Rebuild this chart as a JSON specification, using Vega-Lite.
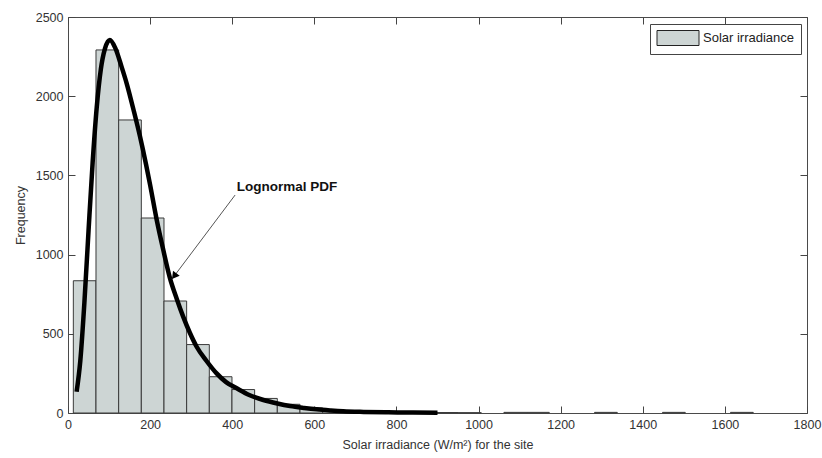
{
  "$schema": "https://vega.github.io/schema/vega-lite/v6.json",
  "autosize": {"type": "none"},
  "padding": {"left": 68, "top": 17, "right": 15, "bottom": 45},
  "width": 739,
  "height": 396,
  "background": "white",
  "datasets": {
    "bins": [
      {"start": 13, "end": 68.2, "count": 835},
      {"start": 68.2, "end": 123.4, "count": 2292},
      {"start": 123.4, "end": 178.6, "count": 1850},
      {"start": 178.6, "end": 233.8, "count": 1231},
      {"start": 233.8, "end": 289, "count": 707},
      {"start": 289, "end": 344.2, "count": 432},
      {"start": 344.2, "end": 399.4, "count": 229},
      {"start": 399.4, "end": 454.6, "count": 148},
      {"start": 454.6, "end": 509.8, "count": 92},
      {"start": 509.8, "end": 565, "count": 55},
      {"start": 565, "end": 620.2, "count": 32},
      {"start": 620.2, "end": 675.4, "count": 17},
      {"start": 675.4, "end": 730.6, "count": 10},
      {"start": 730.6, "end": 785.8, "count": 7},
      {"start": 785.8, "end": 841, "count": 5},
      {"start": 841, "end": 896.2, "count": 4},
      {"start": 896.2, "end": 951.4, "count": 3},
      {"start": 951.4, "end": 1006.6, "count": 2},
      {"start": 1061.8, "end": 1117, "count": 4},
      {"start": 1117, "end": 1172.2, "count": 4},
      {"start": 1282.6, "end": 1337.8, "count": 4},
      {"start": 1448.2, "end": 1503.4, "count": 4},
      {"start": 1613.8, "end": 1669, "count": 4}
    ],
    "pdf": [
      {"x": 21, "y": 134}, {"x": 30, "y": 330}, {"x": 40, "y": 700}, {"x": 50, "y": 1150},
      {"x": 60, "y": 1580}, {"x": 70, "y": 1930}, {"x": 80, "y": 2170}, {"x": 90, "y": 2300},
      {"x": 102, "y": 2355}, {"x": 115, "y": 2305}, {"x": 130, "y": 2190}, {"x": 143, "y": 2080},
      {"x": 160, "y": 1910}, {"x": 175, "y": 1750}, {"x": 190, "y": 1570}, {"x": 200, "y": 1440},
      {"x": 216, "y": 1220}, {"x": 232, "y": 1030}, {"x": 248, "y": 855}, {"x": 265, "y": 720},
      {"x": 281, "y": 605}, {"x": 297, "y": 505}, {"x": 313, "y": 420}, {"x": 337, "y": 330},
      {"x": 362, "y": 250}, {"x": 385, "y": 195}, {"x": 411, "y": 156}, {"x": 440, "y": 115},
      {"x": 476, "y": 82}, {"x": 510, "y": 60}, {"x": 541, "y": 44}, {"x": 575, "y": 32},
      {"x": 606, "y": 23}, {"x": 640, "y": 16}, {"x": 670, "y": 11}, {"x": 720, "y": 7},
      {"x": 780, "y": 4.5}, {"x": 840, "y": 3}, {"x": 900, "y": 2}
    ],
    "note": [
      {"label": "Lognormal PDF", "tx": 411, "ty": 1429, "x1": 407, "y1": 1376, "x2": 253.3, "y2": 846, "hx": 258.6, "hy": 864}
    ]
  },
  "layer": [
    {
      "data": {"name": "bins"},
      "mark": {"type": "bar", "stroke": "#3a3a3a", "strokeWidth": 1},
      "encoding": {
        "x": {"field": "start", "type": "quantitative",
              "scale": {"domain": [0, 1800], "nice": false, "zero": false, "padding": 0},
              "axis": {"orient": "bottom", "values": [0, 200, 400, 600, 800, 1000, 1200, 1400, 1600, 1800],
                       "format": "d", "title": "Solar irradiance (W/m²) for the site", "labelFlush": false}},
        "x2": {"field": "end"},
        "y": {"field": "count", "type": "quantitative",
              "scale": {"domain": [0, 2500], "nice": false, "padding": 0},
              "axis": {"orient": "left", "values": [0, 500, 1000, 1500, 2000, 2500], "format": "d", "title": "Frequency"}},
        "y2": {"datum": 0},
        "color": {"datum": "Solar irradiance", "type": "nominal",
                  "scale": {"range": ["#cdd5d4"]},
                  "legend": {"title": null, "orient": "none", "legendX": 582, "legendY": 7,
                             "symbolType": "M-2.8,-1H2.8V1H-2.8Z", "symbolSize": 225,
                             "symbolOffset": 14, "labelOffset": 17,
                             "symbolStrokeColor": "#222", "symbolStrokeWidth": 1,
                             "strokeColor": "#444", "fillColor": "white", "padding": 6,
                             "labelFont": "Liberation Sans", "labelFontSize": 13, "labelColor": "#222"}}
      }
    },
    {
      "data": {"name": "pdf"},
      "mark": {"type": "line", "color": "black", "strokeWidth": 4.5, "interpolate": "monotone"},
      "encoding": {
        "x": {"field": "x", "type": "quantitative",
              "axis": {"orient": "top", "values": [0, 200, 400, 600, 800, 1000, 1200, 1400, 1600, 1800], "labels": false, "title": null}},
        "y": {"field": "y", "type": "quantitative",
              "axis": {"orient": "right", "values": [0, 500, 1000, 1500, 2000, 2500], "labels": false, "title": null}}
      }
    },
    {
      "data": {"name": "note"},
      "mark": {"type": "rule", "color": "#555", "strokeWidth": 1},
      "encoding": {
        "x": {"field": "x1", "type": "quantitative", "axis": null},
        "y": {"field": "y1", "type": "quantitative", "axis": null},
        "x2": {"field": "x2"},
        "y2": {"field": "y2"}
      }
    },
    {
      "data": {"name": "note"},
      "mark": {"type": "point", "shape": "triangle-up", "filled": true, "color": "black", "size": 70, "angle": 217, "opacity": 1},
      "encoding": {
        "x": {"field": "hx", "type": "quantitative", "axis": null},
        "y": {"field": "hy", "type": "quantitative", "axis": null}
      }
    },
    {
      "data": {"name": "note"},
      "mark": {"type": "text", "align": "left", "baseline": "middle", "font": "Liberation Sans", "fontSize": 13.5, "fontWeight": "bold", "color": "#111"},
      "encoding": {
        "x": {"field": "tx", "type": "quantitative", "axis": null},
        "y": {"field": "ty", "type": "quantitative", "axis": null},
        "text": {"field": "label"}
      }
    }
  ],
  "resolve": {"axis": {"x": "independent", "y": "independent"}},
  "config": {
    "view": {"stroke": "#4a4a4a", "strokeWidth": 1},
    "axis": {
      "grid": false, "domain": false,
      "tickColor": "#444", "tickSize": -7, "tickWidth": 1,
      "labelPadding": 12, "labelFont": "Liberation Sans", "labelFontSize": 12.5, "labelColor": "#333",
      "titleFont": "Liberation Sans", "titleFontSize": 12.5, "titleFontWeight": "normal", "titleColor": "#333",
      "titlePadding": 8
    }
  }
}
